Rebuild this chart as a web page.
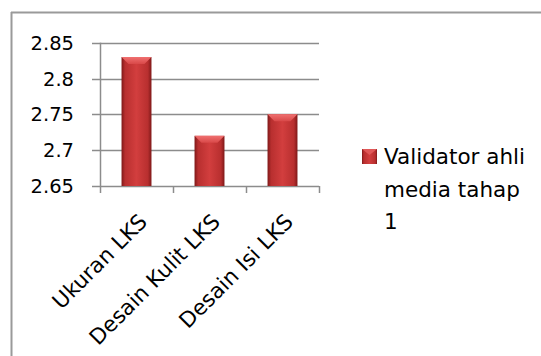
<!DOCTYPE html>
<html>
<head>
<meta charset="utf-8">
<script src="https://cdn.jsdelivr.net/npm/d3@7"></script>
<style>
  body { margin: 0; background: #fff; }
  text { font-family: 'DejaVu Sans', sans-serif; fill: #000; }
</style>
</head>
<body>
<div id="chart"></div>
<script>
var categories = ['Ukuran LKS', 'Desain Kulit LKS', 'Desain Isi LKS']
var values = [2.83, 2.72, 2.75]
var yTicks = [2.65, 2.7, 2.75, 2.8, 2.85]
var seriesName = ['Validator ahli', 'media tahap', '1']

var width = 541
var height = 356
var plot = { left: 100, right: 319, top: 42.7, bottom: 186 }

var svg = d3
  .select('#chart')
  .append('svg')
  .attr('width', width)
  .attr('height', height)

var defs = svg.append('defs')

var grad = defs
  .append('linearGradient')
  .attr('id', 'barGrad')
  .attr('x1', '0%')
  .attr('x2', '100%')
  .attr('y1', '0%')
  .attr('y2', '0%')
grad.append('stop').attr('offset', '0%').attr('stop-color', '#7e1818')
grad.append('stop').attr('offset', '12%').attr('stop-color', '#b82f2f')
grad.append('stop').attr('offset', '50%').attr('stop-color', '#d23e3e')
grad.append('stop').attr('offset', '88%').attr('stop-color', '#b82f2f')
grad.append('stop').attr('offset', '100%').attr('stop-color', '#7e1818')

var capGrad = defs
  .append('linearGradient')
  .attr('id', 'capGrad')
  .attr('x1', '0%')
  .attr('x2', '0%')
  .attr('y1', '0%')
  .attr('y2', '100%')
capGrad.append('stop').attr('offset', '0%').attr('stop-color', '#f07070')
capGrad.append('stop').attr('offset', '100%').attr('stop-color', '#d84848')

// outer frame (top + left only visible)
svg.append('line')
  .attr('x1', 11).attr('x2', width).attr('y1', 12.5).attr('y2', 12.5)
  .attr('stroke', '#9a9a9a').attr('stroke-width', 2)
svg.append('line')
  .attr('x1', 11.5).attr('x2', 11.5).attr('y1', 12).attr('y2', height)
  .attr('stroke', '#9a9a9a').attr('stroke-width', 2)

var yScale = d3
  .scaleLinear()
  .domain([2.65, 2.85])
  .range([plot.bottom, plot.top])

var xScale = d3
  .scaleBand()
  .domain(categories)
  .range([plot.left, plot.right])
  .paddingInner(0.59)
  .paddingOuter(0.295)

var step = xScale.step()

// gridlines with left tick marks
svg.selectAll('.grid')
  .data(yTicks)
  .enter()
  .append('line')
  .attr('class', 'grid')
  .attr('x1', plot.left - 8)
  .attr('x2', plot.right)
  .attr('y1', d => Math.round(yScale(d)) + 0.5)
  .attr('y2', d => Math.round(yScale(d)) + 0.5)
  .attr('stroke', '#8c8c8c')
  .attr('stroke-width', 1.5)

// y axis line
svg.append('line')
  .attr('x1', plot.left + 0.5).attr('x2', plot.left + 0.5)
  .attr('y1', plot.top).attr('y2', plot.bottom)
  .attr('stroke', '#8c8c8c').attr('stroke-width', 1.5)

// x tick marks at category boundaries
var boundaries = d3.range(categories.length + 1).map(i => plot.left + i * step)
svg.selectAll('.xtick')
  .data(boundaries)
  .enter()
  .append('line')
  .attr('class', 'xtick')
  .attr('x1', d => d + 0.5)
  .attr('x2', d => d + 0.5)
  .attr('y1', plot.bottom)
  .attr('y2', plot.bottom + 7)
  .attr('stroke', '#8c8c8c')
  .attr('stroke-width', 1.5)

svg.selectAll('.ylabel')
  .data(yTicks)
  .enter()
  .append('text')
  .attr('class', 'ylabel')
  .attr('x', 74)
  .attr('y', d => yScale(d))
  .attr('dy', '0.36em')
  .attr('text-anchor', 'end')
  .attr('font-size', 19.5)
  .text(d => d3.format('')(d))

// bars
var bars = svg.selectAll('.bar')
  .data(values)
  .enter()
  .append('g')
  .attr('class', 'bar')

bars.append('rect')
  .attr('x', (d, i) => xScale(categories[i]))
  .attr('y', d => yScale(d))
  .attr('width', xScale.bandwidth())
  .attr('height', d => yScale(2.65) - yScale(d))
  .attr('fill', 'url(#barGrad)')

var bevel = 7
bars.append('polygon')
  .attr('points', (d, i) => {
    var x0 = xScale(categories[i])
    var x1 = x0 + xScale.bandwidth()
    var y0 = yScale(d)
    return [[x0, y0], [x1, y0], [x1 - bevel, y0 + bevel], [x0 + bevel, y0 + bevel]]
      .map(p => p.join(',')).join(' ')
  })
  .attr('fill', 'url(#capGrad)')

// category labels rotated
svg.selectAll('.xlabel')
  .data(categories)
  .enter()
  .append('text')
  .attr('class', 'xlabel')
  .attr('text-anchor', 'end')
  .attr('font-size', 21.5)
  .attr('transform', d => 'translate(' + (xScale(d) + xScale.bandwidth() / 2 + 12) + ',' + 223 + ') rotate(-45)')
  .text(d => d)

// legend
var legend = svg.append('g').attr('transform', 'translate(362,149)')
legend.append('rect')
  .attr('width', 15).attr('height', 15)
  .attr('fill', 'url(#barGrad)')
legend.append('polygon')
  .attr('points', '0,0 15,0 7.5,6')
  .attr('fill', '#e05858')

legend.selectAll('.ltext')
  .data(seriesName)
  .enter()
  .append('text')
  .attr('class', 'ltext')
  .attr('x', 22)
  .attr('y', (d, i) => 15 + i * 32.5)
  .attr('font-size', 21.5)
  .text(d => d)
</script>
</body>
</html>
